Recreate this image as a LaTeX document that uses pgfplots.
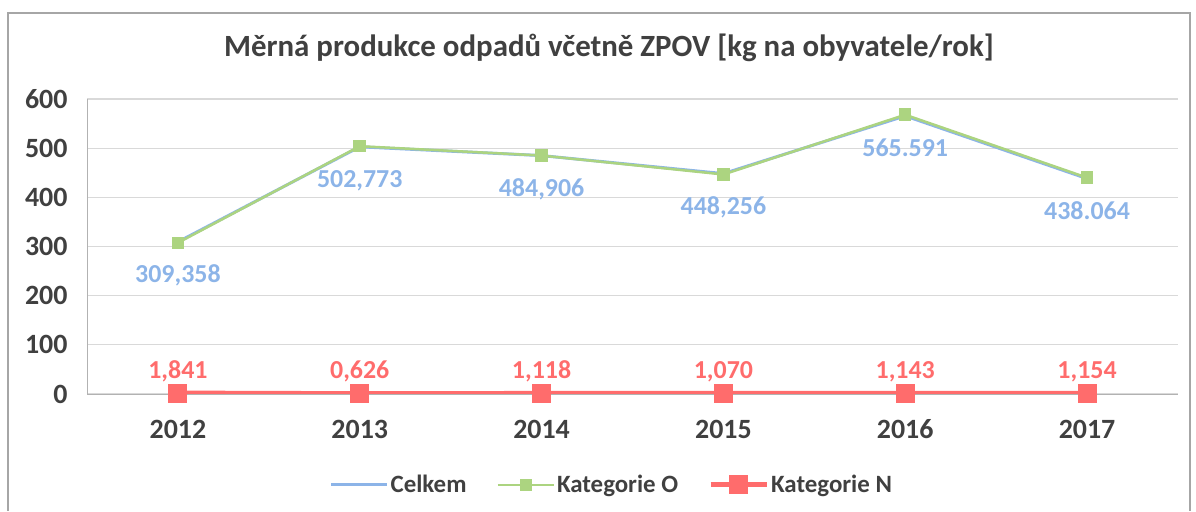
\documentclass[border=0pt]{standalone}
\usepackage{fontspec}
\setmainfont{Carlito}
\usepackage{pgfplots}
\pgfplotsset{compat=1.18}
\definecolor{celk}{RGB}{140,180,232}
\definecolor{katO}{RGB}{172,212,128}
\definecolor{katN}{RGB}{255,108,108}
\definecolor{txt}{RGB}{64,64,64}
\definecolor{gridc}{RGB}{217,217,217}

\pgfplotstableread{
x y lab
0 309.358 309,358
1 502.773 502,773
2 484.906 484,906
3 448.256 448,256
4 565.591 565.591
5 438.064 438.064
}\celkem
\pgfplotstableread{
x y
0 307.5
1 504.0
2 485.0
3 446.5
4 568.0
5 440.0
}\katO
\pgfplotstableread{
x y lab
0 1.841 1,841
1 0.626 0,626
2 1.118 1,118
3 1.070 1,070
4 1.143 1,143
5 1.154 1,154
}\katN

\begin{document}
\begin{tikzpicture}
\path[use as bounding box] (0,0) rectangle (1196bp,512bp);
\draw[gray!70,line width=1.5bp] (8bp,1bp) -- (8bp,499bp) -- (1190bp,499bp) -- (1190bp,1bp);
\node[font=\bfseries\fontsize{31}{36}\selectfont,text=txt] at (609bp,464bp) {Měrná produkce odpadů včetně ZPOV [kg na obyvatele/rok]};
\begin{axis}[at={(87bp,118bp)},anchor=south west,scale only axis,
  width=1091bp,height=295bp,
  xmin=-0.5,xmax=5.5,ymin=0,ymax=600,
  xtick={0,...,5},xticklabels={2012,2013,2014,2015,2016,2017},
  ytick={0,100,...,600},
  /pgf/number format/assume math mode=true,
  ticklabel style={font=\bfseries\fontsize{28}{32}\selectfont,text=txt},
  xticklabel style={yshift=-22bp,text height=19bp,text depth=0pt},
  yticklabel style={xshift=-16bp},
  major tick length=0pt,
  ymajorgrids,grid style={gridc,line width=1.2bp},
  axis x line*=bottom,axis y line*=left,
  axis line style={gray!60,line width=1bp},
  every node near coord/.append style={font=\bfseries\fontsize{26}{30}\selectfont,text height=18bp,text depth=0pt},
  legend style={at={(0.481,-0.308)},anchor=center,draw=none,legend columns=3,
    font=\bfseries\fontsize{25}{30}\selectfont,text=txt,
    /tikz/every even column/.append style={column sep=28bp}},
  legend image code/.code={\draw[mark repeat=2,mark phase=2] plot coordinates {(0bp,0bp) (28bp,0bp) (56bp,0bp)};},
]
\addplot[celk,line width=3bp,no markers,
  nodes near coords,point meta=explicit symbolic,
  every node near coord/.append style={text=celk,anchor=north,yshift=-18bp}]
  table[x=x,y=y,meta=lab]{\celkem};
\addlegendentry{Celkem}
\addplot[katO,line width=2.5bp,mark=square*,mark size=5bp]
  table[x=x,y=y]{\katO};
\addlegendentry{Kategorie O}
\addplot[katN,line width=5bp,mark=square*,mark size=7bp,
  nodes near coords,point meta=explicit symbolic,
  every node near coord/.append style={text=katN,anchor=south,yshift=9bp}]
  table[x=x,y=y,meta=lab]{\katN};
\addlegendentry{Kategorie N}
\end{axis}
\end{tikzpicture}
\end{document}
